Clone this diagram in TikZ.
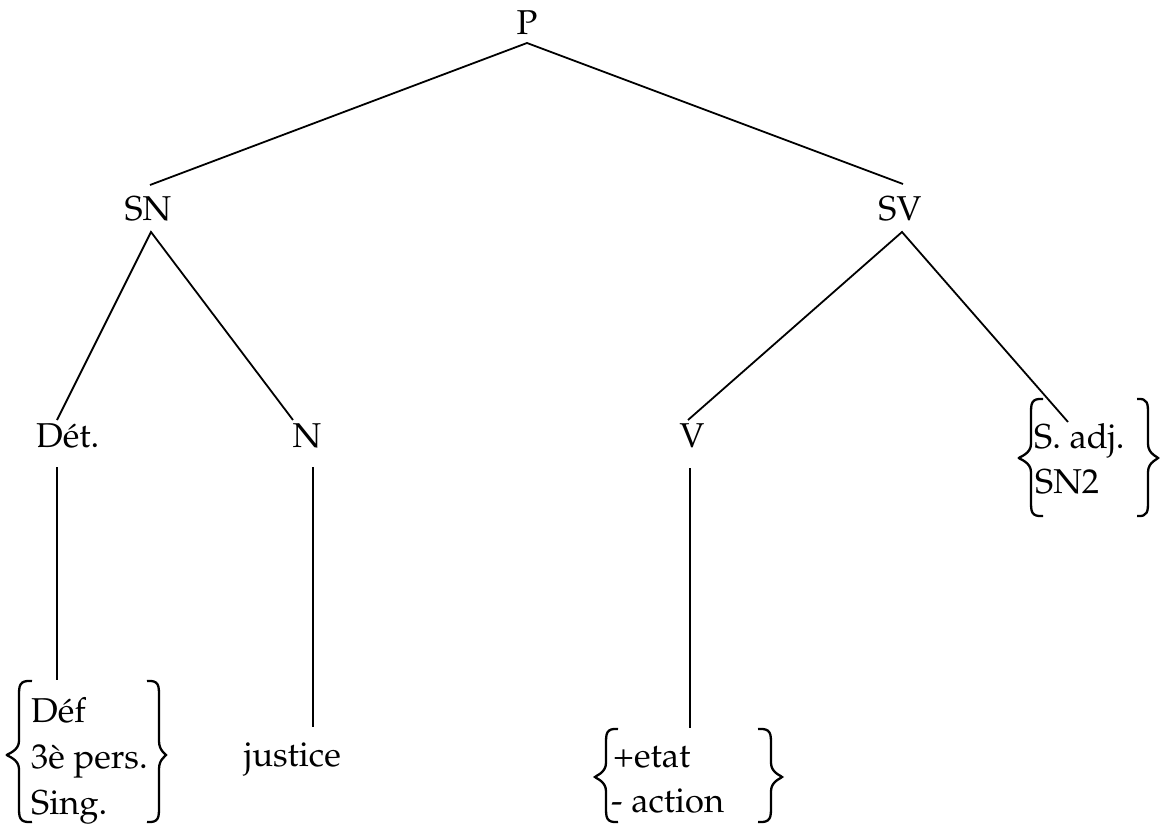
\documentclass[tikz,border=0pt]{standalone}
\usepackage[T1]{fontenc}
\usepackage{mathpazo}
\newcommand\mybrace[6]{%
  \draw[brc] (#1,{#4+1}) .. controls (#2,{#4}) and (#2,{#4+6}) .. (#2,{#4+16}) -- (#2,{#5-14})
    .. controls (#2,{#5-4}) and (#3,{#5-1}) .. (#3,#5) .. controls (#3,{#5+1}) and (#2,{#5+4}) .. (#2,{#5+14})
    -- (#2,{#6-16}) .. controls (#2,{#6-6}) and (#2,{#6}) .. (#1,{#6-1});}
\begin{document}
\begin{tikzpicture}[x=1pt,y=-1pt,
  lbl/.style={inner sep=0pt,font=\fontsize{34.5}{40}\selectfont},
  edge/.style={line width=1.8pt},
  brc/.style={line width=2.3pt}]
\useasboundingbox (0,0) rectangle (1160,824);
% labels
\node[lbl,anchor=base] (P) at (527,35) {P};
\node[lbl,anchor=base] (SN) at (148,220) {SN};
\node[lbl,anchor=base] (SV) at (900,220) {SV};
\node[lbl,anchor=base west] (Det) at (36,447) {D\'et.};
\node[lbl,anchor=base] (N) at (307,447) {N};
\node[lbl,anchor=base] (V) at (692,447) {V};
\node[lbl,anchor=base west] (Sadj) at (1034,448) {S. adj.};
\node[lbl,anchor=base west] (SNtwo) at (1035,493) {SN2};
\node[lbl,anchor=base west] (Def) at (31,722) {D\'ef};
\node[lbl,anchor=base west] (Pers) at (31,768) {3\`e pers.};
\node[lbl,anchor=base west] (Sing) at (31,814) {Sing.};
\node[lbl,anchor=base west] (Just) at (244,766) {justice};
\node[lbl,anchor=base west] (Etat) at (613,767) {+etat};
\node[lbl,anchor=base west] (Act) at (611,812) {- action};
% connector ends
\coordinate (Pa) at (527,43);
\coordinate (SNt) at (150,185);
\coordinate (SVt) at (903,184);
\coordinate (SNa) at (151,232);
\coordinate (Dett) at (57,420);
\coordinate (Nt) at (293,420);
\coordinate (SVa) at (902,232);
\coordinate (Vt) at (688,420);
\coordinate (Adjt) at (1068,422);
\coordinate (Detb) at (57,467);
\coordinate (Defb) at (57,680);
\coordinate (Nb) at (313,467);
\coordinate (Justb) at (313,727);
\coordinate (Vb) at (690,468);
\coordinate (Etatb) at (690,728);
% connectors
\draw[edge] (SNt) -- (Pa) -- (SVt);
\draw[edge] (Dett) -- (SNa) -- (Nt);
\draw[edge] (Vt) -- (SVa) -- (Adjt);
\draw[edge] (Detb) -- (Defb);
\draw[edge] (Nb) -- (Justb);
\draw[edge] (Vb) -- (Etatb);
% braces
\mybrace{32}{19}{7}{680}{755}{823}
\mybrace{147}{159}{166}{680}{755}{823}
\mybrace{618}{606}{595}{728}{777}{823}
\mybrace{758}{771}{782}{728}{777}{823}
\mybrace{1043}{1031}{1019}{398}{458}{517}
\mybrace{1137}{1148}{1158}{398}{458}{517}
\end{tikzpicture}
\end{document}
